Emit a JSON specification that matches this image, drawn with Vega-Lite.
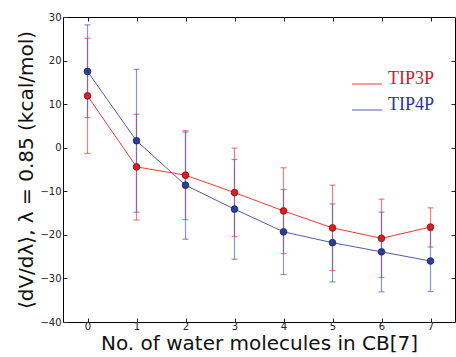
{
  "$schema": "https://vega.github.io/schema/vega-lite/v6.json",
  "width": 392,
  "height": 305,
  "autosize": {"type": "none"},
  "padding": {"left": 63, "top": 17, "right": 1, "bottom": 35},
  "background": "white",
  "config": {
    "view": {"stroke": "black", "strokeWidth": 1},
    "axis": {"domain": false, "grid": false, "labelFont": "DejaVu Sans", "labelFontSize": 10, "labelColor": "#222", "tickColor": "#222", "tickSize": -4, "titleFont": "DejaVu Sans", "titleColor": "#111", "titleFontWeight": "normal"}
  },
  "data": {"values": [
    {"n": 0, "model": "TIP3P", "val": 11.9, "lo": -1.3, "hi": 25.1},
    {"n": 1, "model": "TIP3P", "val": -4.4, "lo": -16.6, "hi": 7.7},
    {"n": 2, "model": "TIP3P", "val": -6.3, "lo": -16.5, "hi": 3.9},
    {"n": 3, "model": "TIP3P", "val": -10.3, "lo": -20.4, "hi": -0.1},
    {"n": 4, "model": "TIP3P", "val": -14.5, "lo": -24.3, "hi": -4.6},
    {"n": 5, "model": "TIP3P", "val": -18.4, "lo": -28.2, "hi": -8.6},
    {"n": 6, "model": "TIP3P", "val": -20.8, "lo": -29.8, "hi": -11.8},
    {"n": 7, "model": "TIP3P", "val": -18.2, "lo": -22.8, "hi": -13.8},
    {"n": 0, "model": "TIP4P", "val": 17.5, "lo": 6.9, "hi": 28.2},
    {"n": 1, "model": "TIP4P", "val": 1.6, "lo": -14.8, "hi": 18.0},
    {"n": 2, "model": "TIP4P", "val": -8.6, "lo": -21.0, "hi": 3.6},
    {"n": 3, "model": "TIP4P", "val": -14.1, "lo": -25.6, "hi": -2.7},
    {"n": 4, "model": "TIP4P", "val": -19.3, "lo": -29.1, "hi": -9.6},
    {"n": 5, "model": "TIP4P", "val": -21.8, "lo": -30.8, "hi": -12.9},
    {"n": 6, "model": "TIP4P", "val": -23.9, "lo": -33.1, "hi": -14.8},
    {"n": 7, "model": "TIP4P", "val": -26.0, "lo": -33.0, "hi": -19.0}
  ]},
  "layer": [
    {
      "mark": {"type": "errorbar", "ticks": {"size": 6}, "opacity": 0.65, "thickness": 1.2},
      "encoding": {
        "x": {"field": "n", "type": "quantitative", "scale": {"domain": [-0.5, 7.5], "nice": false}, "axis": {"values": [0,1,2,3,4,5,6,7], "title": "No. of water molecules in CB[7]", "titleFontSize": 20, "titlePadding": 2, "labelPadding": 3}},
        "y": {"field": "lo", "type": "quantitative", "scale": {"domain": [-40, 30], "nice": false}, "axis": {"values": [-40,-30,-20,-10,0,10,20,30], "title": "⟨dV/dλ⟩, λ = 0.85 (kcal/mol)", "titleFontSize": 20, "titlePadding": 3, "labelPadding": 6}},
        "y2": {"field": "hi"},
        "color": {"field": "model", "type": "nominal", "scale": {"domain": ["TIP3P", "TIP4P"], "range": ["#f03a30", "#4c5cb0"]}}
      }
    },
    {
      "mark": {"type": "line", "strokeWidth": 1},
      "encoding": {
        "x": {"field": "n", "type": "quantitative", "axis": null},
        "y": {"field": "val", "type": "quantitative", "axis": null},
        "color": {"field": "model", "type": "nominal", "legend": {"title": null, "orient": "none", "legendX": 288, "legendY": 51, "padding": 0, "symbolType": "stroke", "symbolSize": 900, "symbolStrokeWidth": 1.5, "symbolStrokeColor": {"expr": "datum.label == 'TIP3P' ? '#d02030' : '#243596'"}, "labelFont": "Liberation Serif", "labelFontSize": 18, "labelBaseline": "alphabetic", "labelOffset": 5, "rowPadding": 6, "labelColor": {"expr": "datum.label == 'TIP3P' ? '#c8202e' : '#26379a'"}}}
      }
    },
    {
      "mark": {"type": "point", "filled": true, "size": 45, "opacity": 1, "strokeWidth": 0.8},
      "encoding": {
        "x": {"field": "n", "type": "quantitative", "axis": null},
        "y": {"field": "val", "type": "quantitative", "axis": null},
        "fill": {"field": "model", "type": "nominal", "scale": {"domain": ["TIP3P", "TIP4P"], "range": ["#e01b24", "#2b3f94"]}, "legend": null},
        "stroke": {"field": "model", "type": "nominal", "scale": {"domain": ["TIP3P", "TIP4P"], "range": ["#7a1010", "#1a2560"]}, "legend": null}
      }
    },
    {
      "mark": {"type": "point", "opacity": 0},
      "encoding": {
        "x": {"field": "n", "type": "quantitative", "axis": {"orient": "top", "values": [0,1,2,3,4,5,6,7], "labels": false, "title": null}},
        "y": {"field": "val", "type": "quantitative", "axis": {"orient": "right", "values": [-40,-30,-20,-10,0,10,20,30], "labels": false, "title": null}}
      }
    }
  ],
  "resolve": {"axis": {"x": "independent", "y": "independent"}}
}
